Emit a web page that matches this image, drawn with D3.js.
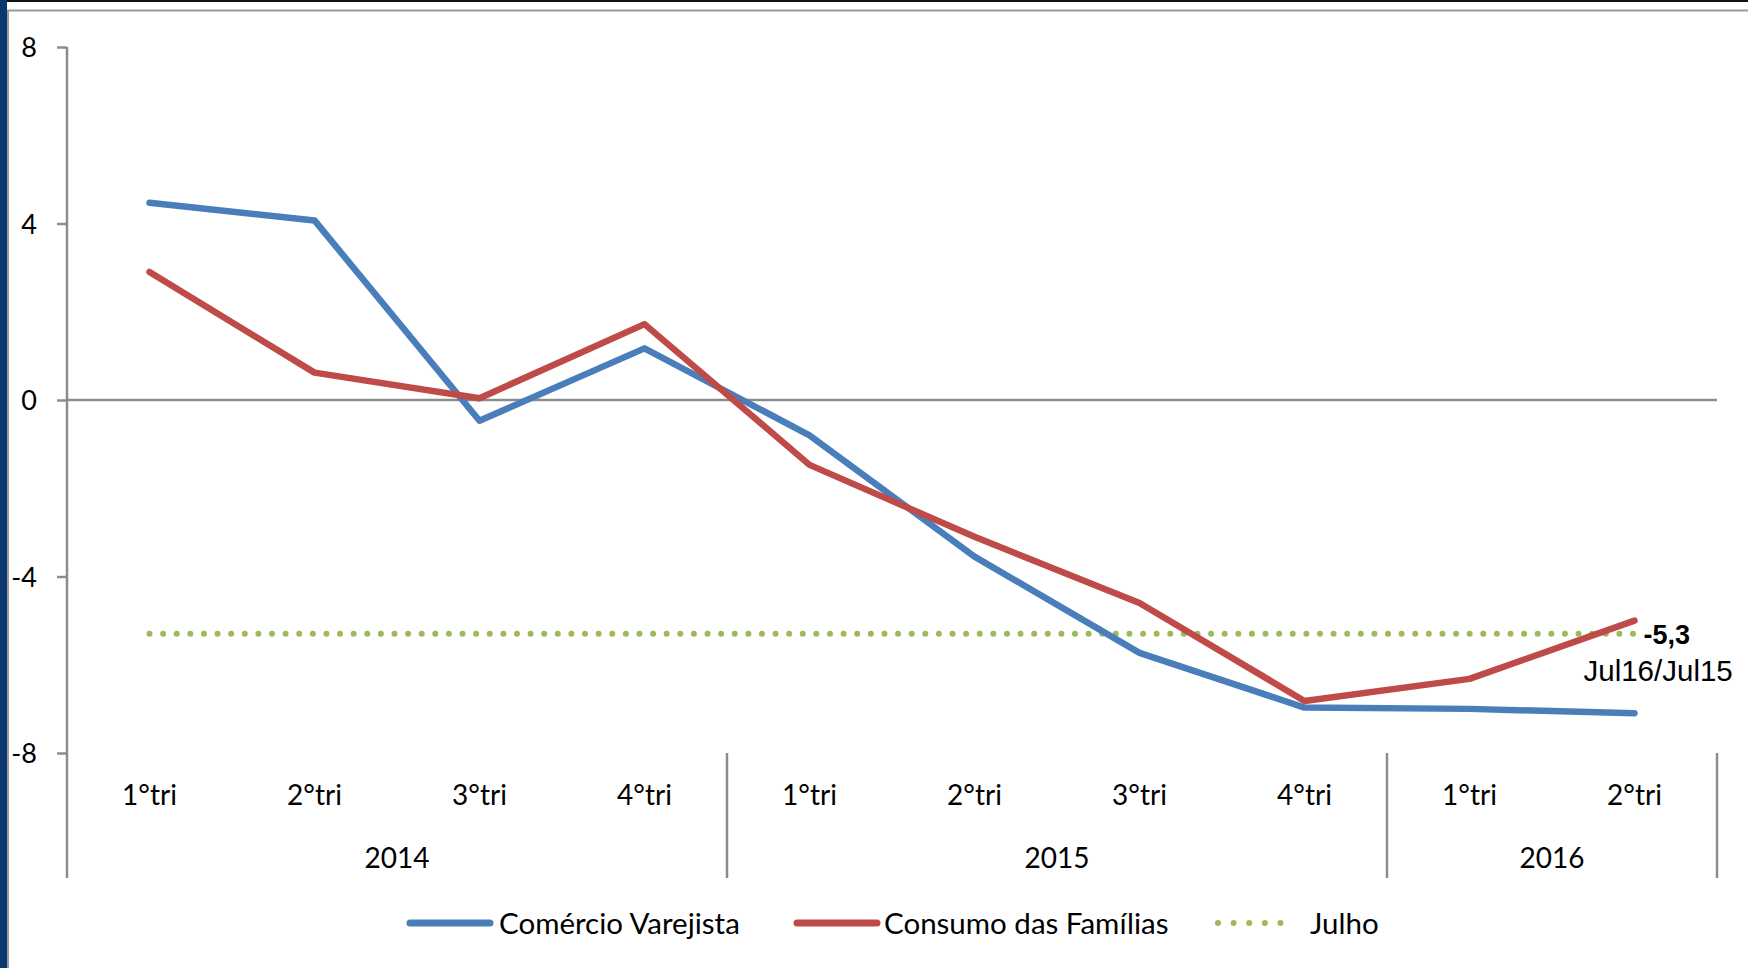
<!DOCTYPE html>
<html>
<head>
<meta charset="utf-8">
<script src="https://cdn.jsdelivr.net/npm/d3@7"></script>
<style>
  body { margin: 0; background: #fff; }
  svg { display: block; }
  .lbl { font-family: Lato, "Open Sans", sans-serif; fill: #000; }
</style>
</head>
<body>
<svg id="chart"></svg>
<script>
// data
let quarters = ["1°tri", "2°tri", "3°tri", "4°tri", "1°tri", "2°tri", "3°tri", "4°tri", "1°tri", "2°tri"]
let years = ["2014", "2015", "2016"]
let yearSpans = [4, 4, 2]
let comercio = [4.47, 4.07, -0.47, 1.17, -0.8, -3.55, -5.73, -6.97, -7.0, -7.1]
let consumo = [2.9, 0.62, 0.04, 1.72, -1.47, -3.1, -4.6, -6.82, -6.32, -5.0]
let julho = [-5.3, -5.3, -5.3, -5.3, -5.3, -5.3, -5.3, -5.3, -5.3, -5.3]
let yTicks = [-8, -4, 0, 4, 8]
let seriesNames = ["Comércio Varejista", "Consumo das Famílias", "Julho"]

function getConfig() {
    let width = 1748
    let height = 968
    let margin = { top: 47, left: 67, right: 31, plotBottom: 753, catBottom: 878 }
    let container = d3.select('#chart')
        .attr('width', width)
        .attr('height', height)
    return { width, height, margin, container }
}

function getScales(config) {
    let { width, margin } = config
    let xScale = d3.scaleBand()
        .domain(d3.range(quarters.length))
        .range([margin.left, width - margin.right])
        .padding(0)
    let yScale = d3.scaleLinear()
        .domain([-8, 8])
        .range([margin.plotBottom, margin.top])
    return { xScale, yScale }
}

function drawFrame(config) {
    let { container, width, height } = config
    container.append('rect')
        .attr('x', 0).attr('y', 0).attr('width', width).attr('height', height)
        .attr('fill', '#fff')
    container.append('rect')
        .attr('x', 0).attr('y', 0).attr('width', 7).attr('height', height)
        .attr('fill', '#0b3770')
    container.append('line')
        .attr('x1', 7).attr('x2', width).attr('y1', 1).attr('y2', 1)
        .attr('stroke', '#111').attr('stroke-width', 2)
    container.append('line')
        .attr('x1', 7).attr('x2', width).attr('y1', 10.5).attr('y2', 10.5)
        .attr('stroke', '#9a9a9a').attr('stroke-width', 2)
    container.append('line')
        .attr('x1', 8).attr('x2', 8).attr('y1', 10).attr('y2', height)
        .attr('stroke', '#9a9a9a').attr('stroke-width', 2)
}

function drawAxes(scales, config) {
    let { xScale, yScale } = scales
    let { container, margin } = config
    let axisColor = '#8c8c8c'

    // y axis
    let axisY = d3.axisLeft(yScale)
        .tickValues(yTicks)
        .tickSize(10)
        .tickPadding(20)
        .tickFormat(d => String(d))
    let gy = container.append('g')
        .attr('transform', `translate(${margin.left},0)`)
        .call(axisY)
    gy.select('.domain').remove()
    gy.selectAll('.tick line').attr('stroke', axisColor).attr('stroke-width', 2.5)
    gy.selectAll('.tick text')
        .attr('class', 'lbl')
        .style('font-size', '27px')
        .attr('dy', '0.36em')

    container.append('line')
        .attr('x1', margin.left).attr('x2', margin.left)
        .attr('y1', yScale(8)).attr('y2', margin.catBottom)
        .attr('stroke', axisColor).attr('stroke-width', 2.5)

    // zero line
    let [x0, x1] = xScale.range()
    container.append('line')
        .attr('x1', x0).attr('x2', x1)
        .attr('y1', yScale(0)).attr('y2', yScale(0))
        .attr('stroke', axisColor).attr('stroke-width', 2.5)

    // quarter labels
    let axisX = d3.axisBottom(xScale)
        .tickSize(0)
        .tickPadding(0)
        .tickFormat(i => quarters[i])
    let gx = container.append('g')
        .attr('transform', `translate(0,${margin.plotBottom})`)
        .call(axisX)
    gx.select('.domain').remove()
    gx.selectAll('.tick text')
        .attr('class', 'lbl')
        .style('font-size', '28px')
        .attr('y', 42)
        .attr('dy', '0.36em')

    // year groups: separators and labels
    let bounds = [0]
    yearSpans.forEach(s => bounds.push(bounds[bounds.length - 1] + s))
    let bw = xScale.bandwidth()
    bounds.slice(1).forEach(b => {
        let x = xScale(b - 1) + bw
        container.append('line')
            .attr('x1', x).attr('x2', x)
            .attr('y1', yScale(-8)).attr('y2', margin.catBottom)
            .attr('stroke', axisColor).attr('stroke-width', 2.5)
    })
    years.forEach((yr, k) => {
        let xa = xScale(bounds[k])
        let xb = xScale(bounds[k + 1] - 1) + bw
        container.append('text')
            .attr('class', 'lbl')
            .attr('x', (xa + xb) / 2)
            .attr('y', 858)
            .attr('dy', '0.36em')
            .attr('text-anchor', 'middle')
            .style('font-size', '28px')
            .text(yr)
    })
}

function drawLines(scales, config) {
    let { xScale, yScale } = scales
    let { container } = config
    let cx = i => xScale(i) + xScale.bandwidth() / 2
    let lineG = d3.line()
        .x((d, i) => cx(i))
        .y(d => yScale(d))

    container.append('path')
        .datum(julho)
        .attr('d', lineG)
        .attr('fill', 'none')
        .attr('stroke', '#9bbb59')
        .attr('stroke-width', 6)
        .attr('stroke-linecap', 'round')
        .attr('stroke-dasharray', '0.01 13.6')

    container.append('path')
        .datum(comercio)
        .attr('d', lineG)
        .attr('fill', 'none')
        .attr('stroke', '#4a7ebb')
        .attr('stroke-width', 6.5)
        .attr('stroke-linejoin', 'round')
        .attr('stroke-linecap', 'round')

    container.append('path')
        .datum(consumo)
        .attr('d', lineG)
        .attr('fill', 'none')
        .attr('stroke', '#be4b48')
        .attr('stroke-width', 6.5)
        .attr('stroke-linejoin', 'round')
        .attr('stroke-linecap', 'round')

    // annotation
    let last = julho.length - 1
    let ax = cx(last)
    let ay = yScale(julho[last])
    container.append('text')
        .attr('x', ax + 9).attr('y', ay + 10)
        .style('font-family', '"Liberation Sans", Arial, sans-serif')
        .style('font-size', '27px')
        .style('font-weight', 'bold')
        .text('-5,3')
    container.append('text')
        .attr('x', ax - 51).attr('y', ay + 47)
        .style('font-family', '"Liberation Sans", Arial, sans-serif')
        .style('font-size', '29.5px')
        .text('Jul16/Jul15')
}

function drawLegend(config) {
    let { container } = config
    let y = 923
    let items = [
        { name: seriesNames[0], color: '#4a7ebb', x: 410, w: 80, dots: false },
        { name: seriesNames[1], color: '#be4b48', x: 797, w: 80, dots: false },
        { name: seriesNames[2], color: '#9bbb59', x: 1218, w: 78, dots: true }
    ]
    let textX = [499, 884, 1310]
    items.forEach((it, k) => {
        let ln = container.append('line')
            .attr('x1', it.x).attr('x2', it.x + it.w)
            .attr('y1', y).attr('y2', y)
            .attr('stroke', it.color)
            .attr('stroke-linecap', 'round')
        if (it.dots) {
            ln.attr('stroke-width', 6).attr('stroke-dasharray', '0.01 15.6')
        } else {
            ln.attr('stroke-width', 7)
        }
        container.append('text')
            .attr('class', 'lbl')
            .attr('x', textX[k]).attr('y', y)
            .attr('dy', '0.36em')
            .style('font-size', '29.5px')
            .text(it.name)
    })
}

let config = getConfig()
let scales = getScales(config)
drawFrame(config)
drawAxes(scales, config)
drawLines(scales, config)
drawLegend(config)
</script>
</body>
</html>
